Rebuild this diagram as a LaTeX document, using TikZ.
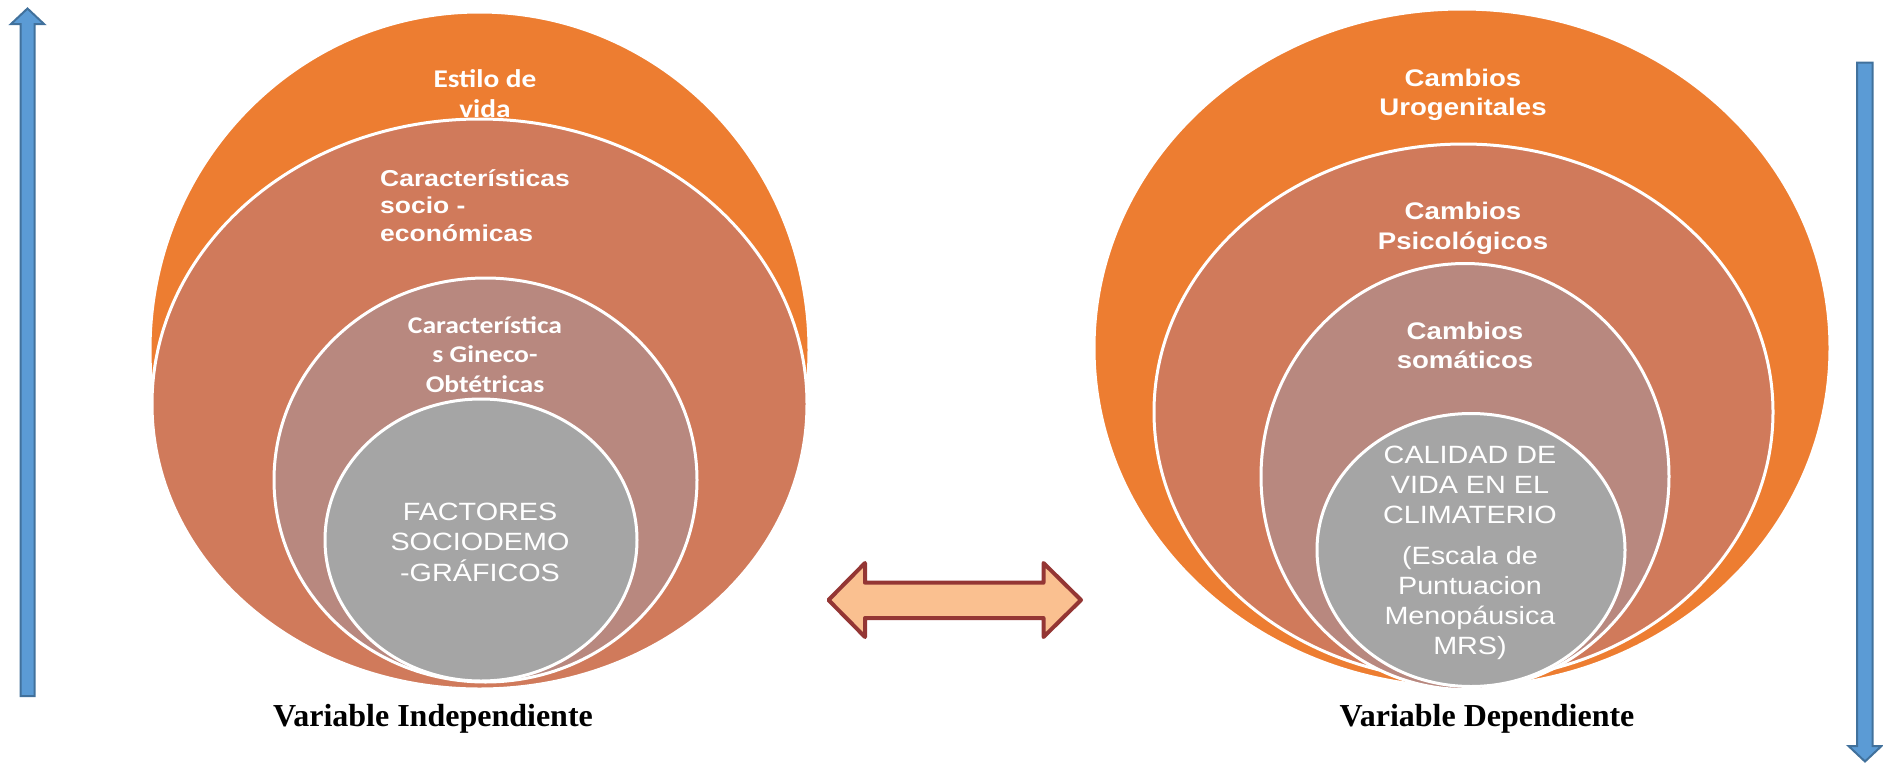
\documentclass[tikz,border=0pt]{standalone}
\usepackage{fontspec}
\usetikzlibrary{shapes.geometric}
\newfontfamily\arialX{Liberation Sans}[FakeStretch=1.15]
\newfontfamily\calX{Carlito}[FakeStretch=1.15]
\newfontfamily\timesB{Liberation Serif}
\definecolor{cOrange}{HTML}{ED7D31}
\definecolor{cTerra}{HTML}{D07A5B}
\definecolor{cRose}{HTML}{B8887F}
\definecolor{cGrey}{HTML}{A5A5A5}
\definecolor{cBlue}{HTML}{5B9BD5}
\definecolor{cBlueD}{HTML}{41719C}
\definecolor{cPeach}{HTML}{FAC090}
\definecolor{cBrick}{HTML}{943634}
\tikzset{
  ring/.style={ellipse, draw=white, line width=3pt, inner sep=0pt},
  lbl/.style={text=white, inner sep=0pt, anchor=base, align=center},
  caption/.style={inner sep=0pt, anchor=base, font=\timesB\bfseries\fontsize{32}{36}\selectfont},
  bluearrow/.style={fill=cBlue, draw=cBlueD, line width=2pt, line join=miter},
  dblarrow/.style={fill=cPeach, draw=cBrick, line width=4pt, line join=round},
}
\begin{document}
\begin{tikzpicture}[x=1pt,y=-1pt]
\useasboundingbox (0,0) rectangle (1883,764);
% left nested ellipses
\node[ring, fill=cOrange, minimum width=659pt, minimum height=676pt] (L1) at (479.5,350) {};
\node[ring, fill=cTerra, minimum width=655pt, minimum height=570pt] (L2) at (479.5,404) {};
\node[ring, fill=cRose, minimum width=423pt, minimum height=404pt] (L3) at (485.5,480) {};
\node[ring, fill=cGrey, minimum width=312pt, minimum height=282pt] (L4) at (481,540) {};
% right nested ellipses
\node[ring, fill=cOrange, minimum width=736pt, minimum height=678pt] (R1) at (1462,348) {};
\node[ring, fill=cTerra, minimum width=619pt, minimum height=536pt] (R2) at (1463.5,412) {};
\node[ring, fill=cRose, minimum width=408pt, minimum height=426pt] (R3) at (1465,476.5) {};
\node[ring, fill=cGrey, minimum width=308pt, minimum height=273pt] (R4) at (1471,550) {};
% left texts (anchor = baseline of last line)
\node[lbl, font=\calX\bfseries\fontsize{25.5}{30}\selectfont] (tL1) at (485,117) {Estilo de\\vida};
\node[lbl, align=left, anchor=base west, font=\arialX\bfseries\fontsize{23}{27.5}\selectfont] (tL2) at (380,241) {Características\\socio -\\económicas};
\node[lbl, font=\calX\bfseries\fontsize{24}{29.5}\selectfont] (tL3) at (485,392) {Característica\\s Gineco-\\Obtétricas};
\node[lbl, font=\arialX\fontsize{25}{30.5}\selectfont] (tL4) at (480,581) {FACTORES\\SOCIODEMO\\-GRÁFICOS};
% right texts
\node[lbl, font=\arialX\bfseries\fontsize{24}{29}\selectfont] (tR1) at (1463,115) {Cambios\\Urogenitales};
\node[lbl, font=\arialX\bfseries\fontsize{24}{29.5}\selectfont] (tR2) at (1463,249) {Cambios\\Psicológicos};
\node[lbl, font=\arialX\bfseries\fontsize{24}{29}\selectfont] (tR3) at (1465,368) {Cambios\\somáticos};
\node[lbl, font=\arialX\fontsize{25}{30}\selectfont] (tR4) at (1470,654) {CALIDAD DE\\VIDA EN EL\\CLIMATERIO\\[11pt](Escala de\\Puntuacion\\Menopáusica\\MRS)};
% captions
\node[caption] (capL) at (433,726) {Variable Independiente};
\node[caption] (capR) at (1487,726) {Variable Dependiente};
% blue arrows
\draw[bluearrow] (20.5,696) -- (20.5,24) -- (11,24) -- (27.5,8.5) -- (44,24) -- (34.5,24) -- (34.5,696) -- cycle;
\draw[bluearrow] (1857,62.5) -- (1872.5,62.5) -- (1872.5,746) -- (1881.5,746) -- (1865,761.5) -- (1848.5,746) -- (1857,746) -- cycle;
% double arrow
\draw[dblarrow] (828.5,600) -- (865,563) -- (865,582.7) -- (1043.5,582.7) -- (1043.5,563) -- (1081,600) -- (1043.5,637) -- (1043.5,618) -- (865,618) -- (865,637) -- cycle;
\end{tikzpicture}
\end{document}
